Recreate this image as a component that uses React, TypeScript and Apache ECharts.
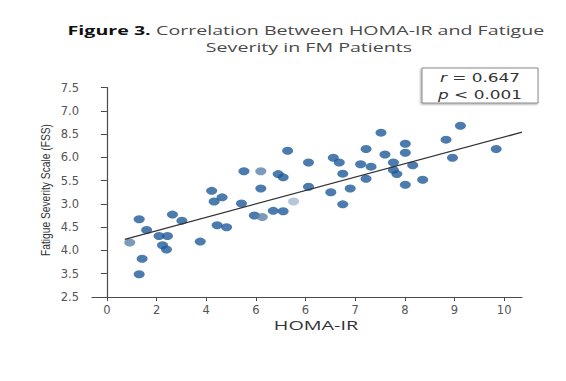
import React, { useEffect, useRef } from "react";
import * as echarts from "echarts";

const TITLE_BOLD = "Figure 3.";
const TITLE_LINE1 = "Correlation Between HOMA-IR and Fatigue";
const TITLE_LINE2 = "Severity in FM Patients";
const X_NAME = "HOMA-IR";
const Y_NAME = "Fatigue Severity Scale (FSS)";
const STAT_R = "0.647";
const STAT_P = "0.001";

// tick labels as printed (evenly spaced positions)
const X_TICK_POS = [0, 1, 2, 3, 4, 5, 6, 7, 8];
const X_TICK_LABELS = ["0", "2", "4", "6", "6", "7", "8", "9", "10"];
const Y_TICK_POS = [3.0, 3.5, 4.0, 4.5, 5.0, 5.5, 6.0, 6.5, 7.0, 7.5];
const Y_TICK_LABELS = ["2.5", "3.5", "4.0", "4.5", "3.0", "5.5", "6.0", "8.5", "7.0", "7.5"];

// points [x position, y position]
const darkPoints: number[][] = [
  [0.65, 4.67], [0.8, 4.44], [0.71, 3.82], [0.65, 3.49], [1.05, 4.31],
  [1.22, 4.31], [1.12, 4.11], [1.2, 4.02], [1.32, 4.77], [1.51, 4.64],
  [1.88, 4.19], [2.11, 5.28], [2.16, 5.05], [2.32, 5.14], [2.22, 4.54],
  [2.41, 4.5], [2.71, 5.01], [2.76, 5.7], [3.1, 5.33], [2.97, 4.75],
  [3.35, 4.85], [3.55, 4.84], [3.45, 5.64], [3.55, 5.57], [3.64, 6.14],
  [4.06, 5.89], [4.06, 5.37], [4.51, 5.25], [4.56, 5.99], [4.68, 5.89],
  [4.75, 5.65], [4.75, 4.99], [4.9, 5.33], [5.22, 6.18], [5.11, 5.85],
  [5.32, 5.8], [5.22, 5.54], [5.52, 6.53], [5.6, 6.06], [5.77, 5.89],
  [5.77, 5.73], [5.84, 5.64], [6.01, 6.29], [6.01, 6.1], [6.16, 5.83],
  [6.01, 5.41], [6.36, 5.52], [6.83, 6.38], [7.12, 6.68], [6.96, 5.99],
  [7.84, 6.18],
];
const midPoints: number[][] = [[0.46, 4.17], [3.1, 5.7], [3.13, 4.72]];
const palePoints: number[][] = [[3.76, 5.05]];

// regression line end points
const fitLine: number[][] = [[0.36, 4.24], [8.36, 6.54]];

export default function App() {
  const ref = useRef<HTMLDivElement>(null);
  useEffect(() => {
    document.body.style.margin = "0";
    const chart = echarts.init(ref.current!, null, { renderer: "svg" });
    const axisColor = "#4a4a4a";
    const labelColor = "#555";
    const pointStyle = (color: string) => ({
      type: "scatter",
      symbol: "circle",
      symbolSize: [11, 8],
      itemStyle: { color },
      z: 2,
    });
    const statText = (y: number, sym: string, op: string, val: string) => ({
      type: "text",
      x: 480,
      y,
      scaleX: 1.3,
      style: {
        text: `{i|${sym}} ${op} ${val}`,
        textAlign: "center",
        textVerticalAlign: "middle",
        fontFamily: "DejaVu Sans",
        fontSize: 13,
        fill: "#333",
        rich: { i: { fontStyle: "italic", fontFamily: "DejaVu Sans", fontSize: 13, fill: "#333" } },
      },
    });
    chart.setOption({
      animation: false,
      backgroundColor: "#fff",
      grid: { left: 92, right: 44, top: 87.5, bottom: 84 },
      xAxis: {
        type: "value",
        min: -0.3,
        max: 8.36,
        axisLine: { show: true, onZero: false, lineStyle: { color: axisColor, width: 1.2 } },
        axisTick: { show: true, length: 4, customValues: X_TICK_POS, lineStyle: { color: axisColor } },
        axisLabel: {
          customValues: X_TICK_POS,
          margin: 7,
          fontFamily: "DejaVu Sans",
          fontSize: 11.5,
          color: labelColor,
          formatter: (v: number) => X_TICK_LABELS[Math.round(v)] ?? "",
        },
        splitLine: { show: false },
      },
      yAxis: {
        type: "value",
        min: 3.0,
        max: 7.5,
        interval: 0.5,
        axisLine: { show: true, onZero: true, lineStyle: { color: axisColor, width: 1.2 } },
        axisTick: { show: true, length: 6, lineStyle: { color: axisColor } },
        axisLabel: {
          margin: 13,
          fontFamily: "DejaVu Sans",
          fontSize: 11.5,
          color: labelColor,
          formatter: (v: number) => Y_TICK_LABELS[Math.round((v - Y_TICK_POS[0]) / 0.5)] ?? "",
        },
        splitLine: { show: false },
      },
      series: [
        { ...pointStyle("#1f5a98"), name: "FM patients", data: darkPoints },
        { ...pointStyle("#5b82aa"), name: "FM patients (light)", data: midPoints },
        { ...pointStyle("#a3b8cf"), name: "FM patients (pale)", data: palePoints },
        {
          type: "line",
          name: "fit",
          data: fitLine,
          symbol: "none",
          lineStyle: { color: "#333", width: 1.3 },
          z: 3,
        },
      ],
      graphic: [
        {
          type: "text",
          x: 306,
          y: 30,
          scaleX: 1.57,
          style: {
            text: `{b|${TITLE_BOLD}} ${TITLE_LINE1}`,
            textAlign: "center",
            textVerticalAlign: "middle",
            fontFamily: "Open Sans",
            fontSize: 12.5,
            fill: "#4a4a4a",
            rich: {
              b: { fontFamily: "Open Sans", fontWeight: "bold", fontSize: 12.5, fill: "#111" },
            },
          },
        },
        {
          type: "text",
          x: 309,
          y: 47,
          scaleX: 1.57,
          style: {
            text: TITLE_LINE2,
            textAlign: "center",
            textVerticalAlign: "middle",
            fontFamily: "Open Sans",
            fontSize: 12.5,
            fill: "#4a4a4a",
          },
        },
        {
          type: "text",
          x: 316,
          y: 326,
          scaleX: 1.65,
          style: {
            text: X_NAME,
            textAlign: "center",
            textVerticalAlign: "middle",
            fontFamily: "Open Sans",
            fontSize: 12,
            fill: "#333",
          },
        },
        {
          type: "text",
          x: 46,
          y: 190,
          rotation: Math.PI / 2,
          scaleX: 0.82,
          style: {
            text: Y_NAME,
            textAlign: "center",
            textVerticalAlign: "middle",
            fontFamily: "Liberation Sans",
            fontSize: 12.5,
            fill: "#333",
          },
        },
        {
          type: "rect",
          shape: { x: 422, y: 68, width: 116, height: 35 },
          style: {
            fill: "#fff",
            stroke: "#8a8a8a",
            lineWidth: 1,
            shadowColor: "rgba(0,0,0,0.35)",
            shadowBlur: 2,
            shadowOffsetX: -1,
            shadowOffsetY: 1,
          },
        },
        statText(78, "r", "=", STAT_R),
        statText(95, "p", "<", STAT_P),
      ],
    });
    return () => chart.dispose();
  }, []);
  return <div ref={ref} style={{ width: 566, height: 381 }} />;
}
